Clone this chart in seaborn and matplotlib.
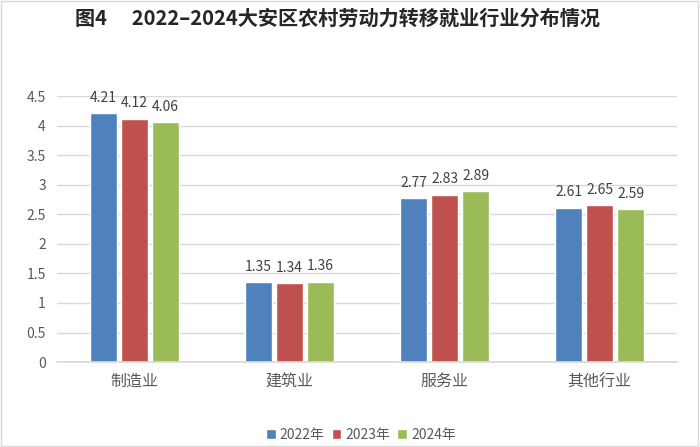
import pandas as pd
import matplotlib
matplotlib.use("Agg")
import matplotlib.pyplot as plt
import seaborn as sns

categories = ["制造业", "建筑业", "服务业", "其他行业"]
years = ["2022年", "2023年", "2024年"]
values_2022 = [4.21, 1.35, 2.77, 2.61]
values_2023 = [4.12, 1.34, 2.83, 2.65]
values_2024 = [4.06, 1.36, 2.89, 2.59]
colors = ["#4F81BD", "#C0504D", "#9BBB59"]
title = "图4　 2022–2024大安区农村劳动力转移就业行业分布情况"

sns.set_theme(style="white")
plt.rcParams["font.family"] = ["Noto Sans CJK SC", "DejaVu Sans"]

df = pd.DataFrame({
    "行业": categories * 3,
    "年份": [years[0]] * 4 + [years[1]] * 4 + [years[2]] * 4,
    "值": values_2022 + values_2023 + values_2024,
})

fig = plt.figure(figsize=(7, 4.47), dpi=100)
ax = fig.add_axes([0.0814, 0.190, 0.886, 0.595])

sns.barplot(data=df, x="行业", y="值", hue="年份", palette=colors,
            width=0.6, gap=0.15, saturation=1, ax=ax, legend=True)

for cont in ax.containers:
    ax.bar_label(cont, fmt="%.2f", padding=6, fontsize=10, color="#404040")

ax.set_ylim(0, 4.5)
ax.set_yticks([0, 0.5, 1, 1.5, 2, 2.5, 3, 3.5, 4, 4.5])
ax.set_yticklabels(["0", "0.5", "1", "1.5", "2", "2.5", "3", "3.5", "4", "4.5"])
ax.set_xlim(-0.5, 3.5)
ax.set_xlabel("")
ax.set_ylabel("")
ax.yaxis.grid(True, color="#D9D9D9", linewidth=1)
ax.set_axisbelow(True)
for s in ["top", "right", "left"]:
    ax.spines[s].set_visible(False)
ax.spines["bottom"].set_color("#D9D9D9")
ax.tick_params(axis="y", labelsize=10, labelcolor="#595959", length=0, pad=8)
ax.tick_params(axis="x", labelsize=11.5, labelcolor="#595959", length=0, pad=8)

ax.legend(loc="upper center", bbox_to_anchor=(0.49, -0.2), ncol=3, frameon=False,
          fontsize=10, handlelength=0.7, handleheight=0.7, handletextpad=0.3,
          columnspacing=0.5, labelcolor="#595959")

fig.text(0.482, 0.96, title, ha="center", va="center", fontsize=14.5,
         fontweight="bold", color="#262626")

border = plt.Rectangle((0.002, 0.002), 0.995, 0.995, transform=fig.transFigure,
                       fill=False, edgecolor="#D9D9D9", linewidth=1)
fig.patches.append(border)

fig.savefig("out.png", dpi=100)
